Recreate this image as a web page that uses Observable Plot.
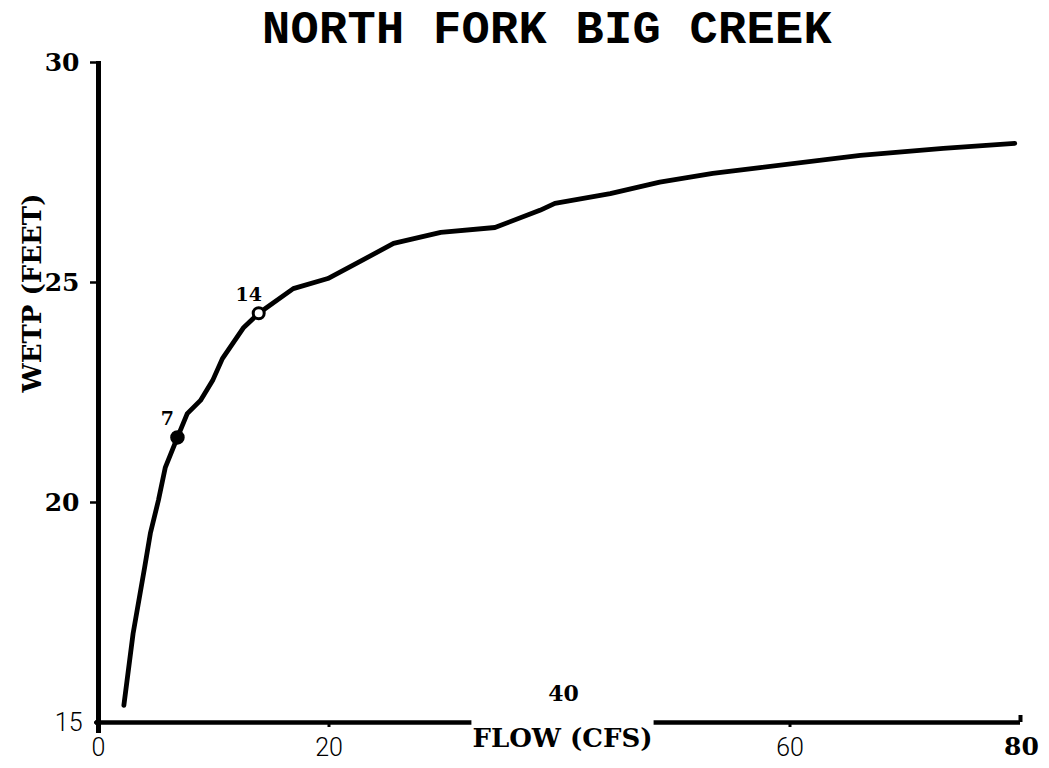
<!DOCTYPE html>
<html><head><meta charset="utf-8">
<script src="https://cdn.jsdelivr.net/npm/d3@7"></script>
<script src="https://cdn.jsdelivr.net/npm/@observablehq/plot@0.6"></script>
<style>
body{margin:0;background:#fff;}
#title{position:relative;height:48px;width:1049px;overflow:visible;}
#title span{position:absolute;top:7px;left:262px;white-space:nowrap;font-family:"Liberation Mono","DejaVu Sans Mono",monospace;font-weight:bold;font-size:47px;line-height:47px;letter-spacing:0.3px;color:#000;}
svg{overflow:visible;}
</style></head>
<body>
<div id="title"><span></span></div>
<div id="chart"></div>
<script>
const title = "NORTH FORK BIG CREEK";
const xLabel = "FLOW (CFS)";
const yLabel = "WETP (FEET)";

// rating curve
const flow = [2.2, 3.0, 4.0, 4.5, 5.2, 5.8, 6.85, 7.7, 8.85, 9.9, 10.75, 12.6, 13.9, 16.9, 19.9, 22.5, 25.6, 29.7, 34.4, 38.3, 39.6, 44.4, 48.7, 53.3, 57.4, 66.1, 73.3, 79.5];
const wetp = [15.39, 17.02, 18.52, 19.30, 20.05, 20.80, 21.48, 22.02, 22.32, 22.77, 23.27, 23.98, 24.30, 24.86, 25.09, 25.45, 25.89, 26.14, 26.25, 26.64, 26.80, 27.02, 27.28, 27.48, 27.61, 27.89, 28.05, 28.16];

// marked points
const markFlow = [6.85, 13.9];
const markWetp = [21.48, 24.30];
const markLabel = ["7", "14"];

// tick labels
const yTicksBold = [20, 25, 30];
const yTicksThin = [15];
const xTicksThin = [0, 20, 60];
const xTicksBold = [80];
const xTickRaised = [40];
const xDomain = [0, 80];
const yDomain = [15, 30];

document.querySelector("#title span").textContent = title;

const curve = flow.map((f, i) => ({flow: f, wetp: wetp[i]}));
const marks = markFlow.map((f, i) => ({flow: f, wetp: markWetp[i], label: markLabel[i]}));

const boldFont = "DejaVu Serif";
const thinFont = "Roboto";

const plot = Plot.plot({
  width: 1049, height: 720,
  marginTop: 14, marginBottom: 46, marginLeft: 98, marginRight: 29,
  x: {domain: xDomain, axis: null},
  y: {domain: yDomain, axis: null},
  style: {fontFamily: boldFont, background: "white", overflow: "visible", color: "black"},
  marks: [
    Plot.ruleY([yDomain[0]], {stroke: "black", strokeWidth: 4.5, insetLeft: -3}),
    Plot.text([xLabel], {frameAnchor: "bottom", dx: 3, dy: 24, fontSize: 26, fontWeight: "bold", fontFamily: boldFont}),
    Plot.ruleX([xDomain[0]], {stroke: "black", strokeWidth: 5, insetBottom: -11, insetTop: -1}),
    Plot.axisY(yTicksBold, {label: null, tickSize: 8, tickPadding: 11, strokeWidth: 2.5, fontSize: 25, fontWeight: "bold", fontFamily: boldFont}),
    Plot.axisY(yTicksThin, {label: null, tickSize: 4, tickPadding: 12, strokeWidth: 2.5, fontSize: 25, fontWeight: 300, fontFamily: thinFont}),
    Plot.axisX(xTicksThin, {label: null, tickSize: 5, tickPadding: 11, strokeWidth: 3, fontSize: 25, fontWeight: 300, fontFamily: thinFont}),
    Plot.ruleX(xTicksBold, {y1: yDomain[0], y2: yDomain[0], insetTop: -7, strokeWidth: 4}),
    Plot.axisX(xTicksBold, {label: null, tickSize: 0, tickPadding: 15, fontSize: 25, fontWeight: "bold", fontFamily: boldFont, dx: 1}),
    Plot.text(xTickRaised, {x: d => d, frameAnchor: "bottom", dx: 4, dy: -22, fontSize: 22, fontWeight: "bold", fontFamily: boldFont}),
    Plot.text([yLabel], {frameAnchor: "left", dx: -66, rotate: -90, fontSize: 26, fontWeight: "bold", fontFamily: boldFont}),
    Plot.line(curve, {x: "flow", y: "wetp", stroke: "black", strokeWidth: 4.8, strokeLinejoin: "round", strokeLinecap: "round"}),
    Plot.dot(marks.slice(0, 1), {x: "flow", y: "wetp", r: 6.5, fill: "black", stroke: "black"}),
    Plot.dot(marks.slice(1), {x: "flow", y: "wetp", r: 5.5, fill: "white", stroke: "black", strokeWidth: 3}),
    Plot.text(marks, {x: "flow", y: "wetp", text: "label", dx: -10, dy: -18, fontSize: 19, fontWeight: "bold", fontFamily: boldFont})
  ]
});
document.getElementById("chart").append(plot);

// white gap in the x axis line behind the axis title
const labelText = Array.from(plot.querySelectorAll("text")).find(t => t.textContent === xLabel);
if (labelText) {
  const b = labelText.getBBox();
  const holder = labelText.parentNode;
  const rect = document.createElementNS("http://www.w3.org/2000/svg", "rect");
  rect.setAttribute("x", b.x - 1);
  rect.setAttribute("y", b.y - 12);
  rect.setAttribute("width", b.width + 2);
  rect.setAttribute("height", b.height + 12);
  rect.setAttribute("fill", "white");
  if (labelText.getAttribute("transform")) rect.setAttribute("transform", labelText.getAttribute("transform"));
  holder.insertBefore(rect, labelText);
}
</script>
</body></html>
